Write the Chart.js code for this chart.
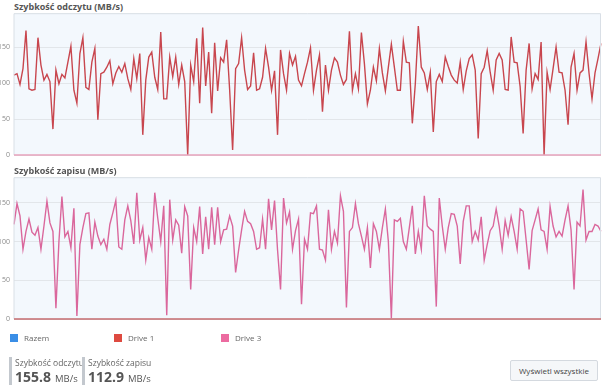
<!DOCTYPE html>
<html>
<head>
<meta charset="utf-8">
<script src="https://cdn.jsdelivr.net/npm/chart.js@4"></script>
<style>
  body { margin: 0; width: 605px; height: 387px; background: #fff; font-family: 'Open Sans', sans-serif; position: relative; overflow: hidden; }
  .title { position: absolute; left: 14px; font-size: 9px; font-weight: 700; color: #555; }
  .box { position: absolute; left: 0; width: 605px; height: 160px; }
  .legend { position: absolute; top: 332px; font-size: 8px; color: #666; }
  .legend span { display: inline-block; width: 8px; height: 8px; margin-right: 6px; vertical-align: -1px; }
  .stat { position: absolute; top: 357px; border-left: 3px solid #c3c8ce; padding-left: 3px; height: 28px; color: #666; }
  .stat .lbl { font-size: 8.5px; line-height: 11px; }
  .stat .val { font-size: 14px; font-weight: 700; color: #555; line-height: 17px; }
  .stat .val small { font-size: 9.5px; font-weight: 400; margin-left: 4px; }
  .btn { position: absolute; left: 510px; top: 360px; width: 86px; height: 19px; border: 1px solid #d4d9df; border-radius: 2px; background: #f5f7f9; font-size: 8px; color: #444; text-align: center; line-height: 19px; }
</style>
</head>
<body>
<div class="title" style="top:0px">Szybkość odczytu (MB/s)</div>
<div class="box" style="top:5px"><canvas id="readChart"></canvas></div>
<div class="title" style="top:164px">Szybkość zapisu (MB/s)</div>
<div class="box" style="top:169px"><canvas id="writeChart"></canvas></div>

<div class="legend" style="left:10px"><span style="background:#3a8ee6"></span>Razem</div>
<div class="legend" style="left:114px"><span style="background:#de4a40"></span>Drive 1</div>
<div class="legend" style="left:221px"><span style="background:#ec6ba0"></span>Drive 3</div>

<div class="stat" style="left:9px"><div class="lbl">Szybkość odczytu</div><div class="val">155.8<small>MB/s</small></div></div>
<div class="stat" style="left:82px"><div class="lbl">Szybkość zapisu</div><div class="val">112.9<small>MB/s</small></div></div>
<div class="btn">Wyświetl wszystkie</div>

<script>
// Szybkość odczytu - Drive 1 (MB/s)
const readSpeed = [
  111,113,98,120,173,92,90,91,163,125,104,112,102,36,118,99,112,107,129,151,90,72,141,163,94,91,129,148,49,113,
  115,122,131,99,114,123,115,127,106,91,134,106,141,28,104,136,143,108,91,171,78,78,136,109,136,98,125,102,0,125,
  102,162,72,
  177,96,143,58,156,89,135,129,160,91,7,120,127,163,118,91,96,142,90,92,108,148,122,90,117,28,146,113,90,141,
  125,137,104,96,113,129,149,90,118,139,60,125,90,118,135,129,111,98,105,172,90,113,92,170,127,71,90,122,103,148,
  114,89,122,154,122,90,90,158,
  129,128,44,99,179,122,114,91,115,32,102,112,102,136,123,111,104,100,129,91,117,134,139,118,23,113,122,145,115,90,
  132,141,132,91,90,164,129,128,95,30,118,155,92,113,105,157,0,115,91,120,150,115,114,90,42,122,141,90,114,118,
  157,114,78,114,134,155
];

// Szybkość zapisu - Drive 3 (MB/s)
const writeSpeed = [
  122,149,133,90,113,129,112,108,118,90,120,152,124,113,14,100,158,106,113,92,143,4,96,118,136,137,90,125,107,96,
  103,90,122,137,153,93,90,128,146,127,97,163,102,118,76,105,90,163,130,100,146,5,154,102,128,121,85,145,133,38,
  118,100,145,
  84,132,90,144,96,144,100,115,116,133,120,60,89,115,139,126,123,113,90,92,129,90,155,115,153,89,38,156,124,138,
  90,114,129,19,103,90,137,136,146,90,89,76,141,90,113,98,159,139,15,113,118,149,123,107,90,118,66,123,113,90,
  118,142,100,1,128,126,130,100,
  90,118,146,84,113,90,159,120,116,113,16,156,120,90,118,136,135,120,71,126,146,146,100,113,102,132,76,96,114,120,
  142,120,90,127,108,132,113,90,142,139,102,64,114,128,142,115,113,90,145,120,106,113,107,128,146,115,38,125,120,167,
  102,113,113,122,120,113
];

const yTicks = [0, 50, 100, 150];

// fond bleu clair + cadre de la zone de tracé
const plotBg = {
  id: 'plotBg',
  beforeDraw(chart) {
    const { ctx, chartArea: a } = chart;
    ctx.save();
    ctx.fillStyle = '#f3f8fd';
    ctx.fillRect(a.left, a.top, a.right - a.left, a.bottom - a.top);
    ctx.restore();
  },
  afterDraw(chart) {
    const { ctx, chartArea: a } = chart;
    ctx.save();
    ctx.strokeStyle = '#d9dfe6';
    ctx.lineWidth = 1;
    ctx.beginPath();
    ctx.moveTo(a.left, a.bottom);
    ctx.lineTo(a.left, a.top + 0.5);
    ctx.lineTo(a.right - 0.5, a.top + 0.5);
    ctx.lineTo(a.right - 0.5, a.bottom);
    ctx.stroke();
    ctx.strokeStyle = chart.options.baseColor;
    ctx.lineWidth = 1.5;
    ctx.beginPath();
    ctx.moveTo(a.left, a.bottom);
    ctx.lineTo(a.right, a.bottom);
    ctx.stroke();
    ctx.restore();
  }
};

function makeChart(id, values, color, max, baseColor) {
  return new Chart(document.getElementById(id), {
    type: 'line',
    data: {
      labels: values.map((_, i) => i),
      datasets: [{
        data: values,
        borderColor: color,
        borderWidth: 1.4,
        pointRadius: 0,
        tension: 0
      }]
    },
    options: {
      responsive: true,
      maintainAspectRatio: false,
      animation: false,
      baseColor: baseColor,
      layout: { padding: { top: 8, bottom: 10, right: 4, left: 0 } },
      plugins: { legend: { display: false }, tooltip: { enabled: false } },
      scales: {
        x: { display: false, offset: false },
        y: {
          min: 0,
          max: max,
          afterBuildTicks: axis => { axis.ticks = yTicks.map(v => ({ value: v })); },
          afterFit: axis => { axis.width = 14; },
          border: { display: false },
          grid: { color: '#e2e6ea', drawTicks: false },
          ticks: { font: { size: 7, family: 'Open Sans' }, color: '#8a8a8a', padding: 4 }
        }
      }
    },
    plugins: [plotBg]
  });
}

makeChart('readChart', readSpeed, '#c8464e', 197, '#e7a3bb');
makeChart('writeChart', writeSpeed, '#da679c', 183, '#c46b6e');
</script>
</body>
</html>
